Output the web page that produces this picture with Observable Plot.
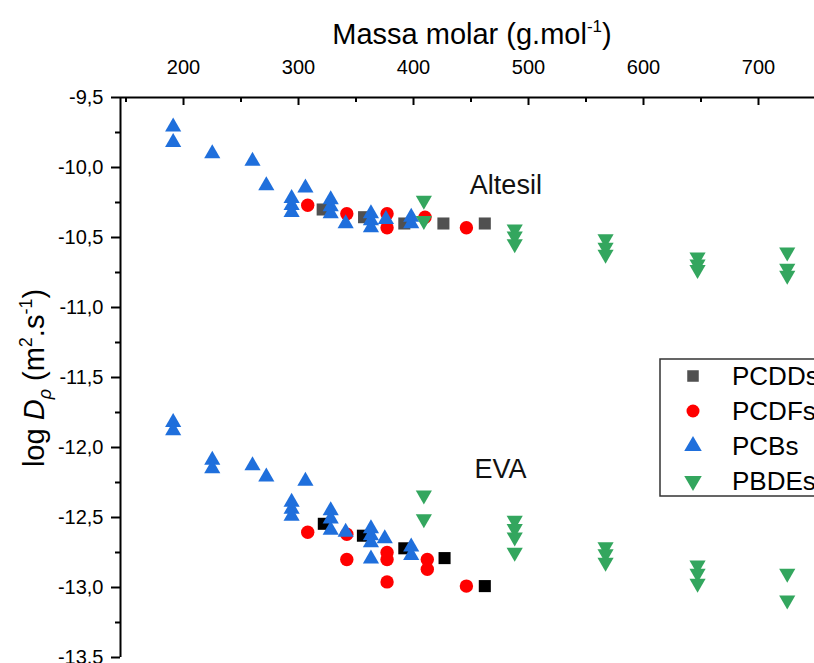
<!DOCTYPE html>
<html>
<head>
<meta charset="utf-8">
<script src="https://cdn.jsdelivr.net/npm/d3@7"></script>
<script src="https://cdn.jsdelivr.net/npm/@observablehq/plot@0.6"></script>
<style>
  html, body { margin: 0; padding: 0; background: #fff; }
  #chart { width: 814px; height: 663px; overflow: hidden; position: relative; }
</style>
</head>
<body>
<div id="chart"></div>
<script>
// log Dp versus molar mass for four compound classes in two polymers (Altesil, EVA).
// Each entry: [molar mass (g/mol), log Dp (m²/s)]

// Altesil
const altesilPCDDs = [[321, -10.30], [357, -10.355], [392, -10.40], [426, -10.40], [462, -10.40]];
const altesilPCDFs = [[308, -10.27], [342, -10.33], [377, -10.33], [377, -10.43], [410, -10.355], [446, -10.43]];
const altesilPCBs = [
  [191, -9.71], [191, -9.82], [225, -9.90], [260, -9.955], [272, -10.13],
  [294, -10.22], [294, -10.27], [294, -10.32], [306, -10.145],
  [328, -10.23], [328, -10.28], [328, -10.33], [341, -10.40],
  [363, -10.33], [363, -10.38], [363, -10.43], [376, -10.37],
  [398, -10.355], [398, -10.40]
];
const altesilPBDEs = [
  [409, -10.235], [409, -10.38],
  [488, -10.44], [488, -10.49], [488, -10.545],
  [567, -10.51], [567, -10.57], [567, -10.62],
  [647, -10.64], [647, -10.69], [647, -10.73],
  [725, -10.605], [725, -10.72], [725, -10.77]
];

// EVA
const evaPCDDs = [[322, -12.545], [356, -12.63], [392, -12.72], [427, -12.79], [462, -12.99]];
const evaPCDFs = [
  [308, -12.605], [342, -12.62], [342, -12.80], [377, -12.75], [377, -12.80],
  [377, -12.96], [412, -12.80], [412, -12.87], [446, -12.99]
];
const evaPCBs = [
  [191, -11.82], [191, -11.88], [225, -12.09], [225, -12.15], [260, -12.13],
  [272, -12.21], [306, -12.24], [294, -12.39], [294, -12.44], [294, -12.49],
  [328, -12.45], [328, -12.51], [328, -12.59], [341, -12.605],
  [363, -12.58], [363, -12.63], [363, -12.68], [363, -12.795],
  [375, -12.65], [398, -12.71], [398, -12.77]
];
const evaPBDEs = [
  [409, -12.34], [409, -12.51],
  [488, -12.52], [488, -12.58], [488, -12.64], [488, -12.75],
  [567, -12.71], [567, -12.76], [567, -12.82],
  [647, -12.84], [647, -12.90], [647, -12.97],
  [725, -12.90], [725, -13.09]
];

// Group labels placed next to each data cloud: [text, mass, logD]
const groupLabels = [["Altesil", 449, -10.19], ["EVA", 453, -12.22]];

// Legend entries
const legendNames = ["PCDDs", "PCDFs", "PCBs", "PBDEs"];

// Axis ticks
const xMajor = [200, 300, 400, 500, 600, 700];
const xMinor = [150, 250, 350, 450, 550, 650, 750];
const yMajor = [-9.5, -10, -10.5, -11, -11.5, -12, -12.5, -13, -13.5];
const yMinor = [-9.75, -10.25, -10.75, -11.25, -11.75, -12.25, -12.75, -13.25];
const xDomain = [145.2, 748.7];
const yDomain = [-13.5, -9.5];

const FONT = "'Liberation Sans', Arial, sans-serif";
const colors = {dd: "#505050", ddEva: "#000000", df: "#ff0000", pcb: "#1f6fdc", pbde: "#33a65e"};

// Downward-pointing triangle (mirror of d3.symbolTriangle)
const triangleDown = {
  draw(context, size) {
    const s3 = Math.sqrt(3);
    const y = -Math.sqrt(size / (s3 * 3));
    context.moveTo(0, -y * 2);
    context.lineTo(-s3 * y, y);
    context.lineTo(s3 * y, y);
    context.closePath();
  }
};

const fmt = d => d.toFixed(1).replace(".", ",");
const plotH = 663 - 97 - 6;

const dots = (data, symbol, fill, r) =>
  Plot.dot(data, {x: d => d[0], y: d => d[1], symbol, fill, r, stroke: "none"});

const plot = Plot.plot({
  width: 814,
  height: 663,
  marginLeft: 120,
  marginTop: 97,
  marginBottom: 6,
  marginRight: 0,
  style: {fontFamily: FONT, background: "white", color: "#000"},
  x: {domain: xDomain},
  y: {domain: yDomain},
  marks: [
    // top axis: inward ticks and labels
    Plot.ruleX(xMajor, {x: d => d, insetBottom: plotH - 8, stroke: "#000", strokeWidth: 2}),
    Plot.ruleX(xMinor, {x: d => d, insetBottom: plotH - 5, stroke: "#000", strokeWidth: 2}),
    Plot.axisX({anchor: "top", ticks: xMajor, tickSize: 0, tickPadding: 24, fontSize: 20, label: null}),
    // left axis
    Plot.axisY({ticks: yMajor, tickSize: 9, tickPadding: 8, tickFormat: fmt, fontSize: 20, label: null, strokeWidth: 2}),
    Plot.axisY({ticks: yMinor, tickSize: 5, tickFormat: () => "", label: null, strokeWidth: 2}),
    Plot.ruleX([xDomain[0]], {stroke: "#000", strokeWidth: 2}),
    Plot.ruleY([yDomain[1]], {stroke: "#000", strokeWidth: 2}),
    // Altesil
    dots(altesilPCDDs, "square", colors.dd, 6.8),
    dots(altesilPCDFs, "circle", colors.df, 6.7),
    dots(altesilPCBs, "triangle", colors.pcb, 6),
    dots(altesilPBDEs, triangleDown, colors.pbde, 6),
    // EVA
    dots(evaPCDDs, "square", colors.ddEva, 6.8),
    dots(evaPCDFs, "circle", colors.df, 6.7),
    dots(evaPCBs, "triangle", colors.pcb, 6),
    dots(evaPBDEs, triangleDown, colors.pbde, 6),
    // group names
    Plot.text(groupLabels, {x: d => d[1], y: d => d[2], text: d => d[0], textAnchor: "start", lineAnchor: "bottom", fontSize: 27, fill: "#111"})
  ]
});

document.getElementById("chart").appendChild(plot);

const svg = d3.select(plot);

// x-axis title with superscript
const title = svg.append("text")
  .attr("x", 472).attr("y", 44)
  .attr("text-anchor", "middle")
  .attr("font-family", FONT).attr("font-size", 29).attr("fill", "#000");
title.append("tspan").text("Massa molar (g.mol");
title.append("tspan").attr("dy", -12).attr("font-size", 17).text("-1");
title.append("tspan").attr("dy", 12).text(")");

// y-axis title: log Dρ (m².s⁻¹)
const ylab = svg.append("text")
  .attr("transform", "translate(44,378) rotate(-90)")
  .attr("text-anchor", "middle")
  .attr("font-family", FONT).attr("font-size", 29).attr("fill", "#000");
ylab.append("tspan").text("log ");
ylab.append("tspan").attr("font-style", "italic").text("D");
ylab.append("tspan").attr("font-style", "italic").attr("font-size", 18).attr("dy", 7).text("ρ");
ylab.append("tspan").attr("dy", -7).text(" (m");
ylab.append("tspan").attr("font-size", 18).attr("dy", -12).text("2");
ylab.append("tspan").attr("dy", 12).text(".s");
ylab.append("tspan").attr("font-size", 18).attr("dy", -12).text("-1");
ylab.append("tspan").attr("dy", 12).text(")");

// legend box
const legendSymbols = [d3.symbolSquare, d3.symbolCircle, d3.symbolTriangle, triangleDown];
const legendFills = [colors.dd, colors.df, colors.pcb, colors.pbde];
const lg = svg.append("g").attr("transform", "translate(660,359)");
lg.append("rect").attr("width", 220).attr("height", 137)
  .attr("fill", "white").attr("stroke", "#333").attr("stroke-width", 1.5);
legendNames.forEach((name, i) => {
  const cy = 17 + i * 35;
  lg.append("path")
    .attr("transform", `translate(33,${cy})`)
    .attr("d", d3.symbol(legendSymbols[i], Math.PI * 6.5 * 6.5)())
    .attr("fill", legendFills[i]);
  lg.append("text")
    .attr("x", 72).attr("y", cy)
    .attr("dy", "0.36em")
    .attr("text-anchor", "start")
    .attr("font-family", FONT).attr("font-size", 26).attr("fill", "#000")
    .text(name);
});
</script>
</body>
</html>
